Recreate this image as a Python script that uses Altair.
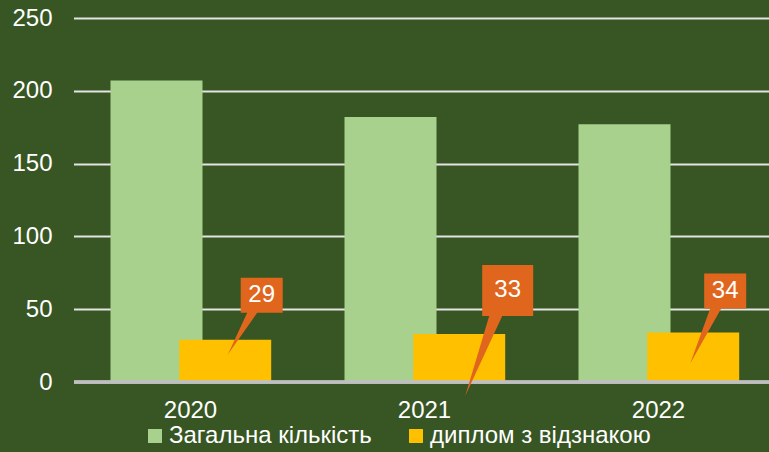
import altair as alt
import pandas as pd

# ---- data ----
years = ["2020", "2021", "2022"]
total = [207, 182, 177]
honors = [29, 33, 34]
series = ["Загальна кількість", "диплом з відзнакою"]
colors = ["#A9D18E", "#FFC000"]
y_ticks = [0, 50, 100, 150, 200, 250]

df = pd.DataFrame({"year": years, "total": total, "honors": honors})

FONT = "Liberation Sans"
FS = 24
BAR_W = 92
OFF_TOTAL = -34
OFF_HON = 34.7

xenc = alt.X(
    "year:N",
    sort=years,
    scale=alt.Scale(paddingInner=0, paddingOuter=0, range=[-0.5, 701.5]),
    axis=alt.Axis(title=None, labelAngle=0, domain=False, ticks=False, grid=False,
                  labelPadding=16, labelFontSize=FS, labelColor="white", labelFont=FONT),
)
yscale = alt.Scale(domain=[0, 250], nice=False)
yaxis = alt.Axis(title=None, values=y_ticks, domain=False, ticks=False, grid=True,
                 gridColor="#E4E4E4", gridWidth=2, labelPadding=22,
                 labelFontSize=FS, labelColor="white", labelFont=FONT)

color_scale = alt.Scale(domain=series, range=colors)
legend = alt.Legend(title=None, orient="none", legendX=69, legendY=406, direction="horizontal",
                    symbolType="square", symbolSize=196, symbolStrokeWidth=0,
                    labelFontSize=FS, labelColor="white", labelFont=FONT, labelLimit=400,
                    columnPadding=32, labelOffset=2)

base = alt.Chart(df)

bars_total = base.transform_calculate(series=f"'{series[0]}'").mark_bar(
    width=BAR_W, xOffset=OFF_TOTAL, opacity=1).encode(
    x=xenc,
    y=alt.Y("total:Q", scale=yscale, axis=yaxis),
    color=alt.Color("series:N", scale=color_scale, legend=legend),
)
bars_hon = base.transform_calculate(series=f"'{series[1]}'").mark_bar(
    width=BAR_W, xOffset=OFF_HON, opacity=1).encode(
    x=alt.X("year:N", sort=years),
    y=alt.Y("honors:Q"),
    color=alt.Color("series:N", scale=color_scale, legend=legend),
)
baseline = base.mark_rule(color="#BFBFBF", strokeWidth=3).encode(y=alt.datum(0))

# callout styles per year: shape path (pixels relative to the bar top) and label offset
callout_style = {
    "2020": ("M15.5,-62 L57.5,-62 L57.5,-27 L32,-27 L2.5,15 L22,-27 L15.5,-27 Z", 36.5, -44.5),
    "2021": ("M23,-69 L74,-69 L74,-18 L43,-18 L6,62 L30,-18 L23,-18 Z", 48.5, -43.5),
    "2022": ("M11,-59 L53,-59 L53,-24 L28,-24 L-3,31 L17,-24 L11,-24 Z", 32, -41.5),
}
ORANGE = "#E1661D"
layers = [bars_total, bars_hon, baseline]
for yr in years:
    path, dx, dy = callout_style[yr]
    sub = base.transform_filter(alt.datum.year == yr)
    layers.append(
        sub.mark_point(shape=path, size=4, filled=True, opacity=1, color=ORANGE,
                       strokeWidth=0, xOffset=OFF_HON).encode(
            x=alt.X("year:N", sort=years), y=alt.Y("honors:Q"))
    )
    layers.append(
        sub.mark_text(font=FONT, fontSize=FS, color="white", align="center", baseline="middle",
                      xOffset=OFF_HON + dx, yOffset=dy).encode(
            x=alt.X("year:N", sort=years), y=alt.Y("honors:Q"), text=alt.Text("honors:Q"))
    )

chart = alt.layer(*layers).properties(
    width=695, height=364,
    autosize=alt.AutoSizeParams(type="none"),
    padding={"left": 74, "top": 18, "right": 0, "bottom": 70},
).configure(background="#375623").configure_view(stroke=None)

chart.save("out.html", embed_options={"renderer": "svg", "actions": False})
